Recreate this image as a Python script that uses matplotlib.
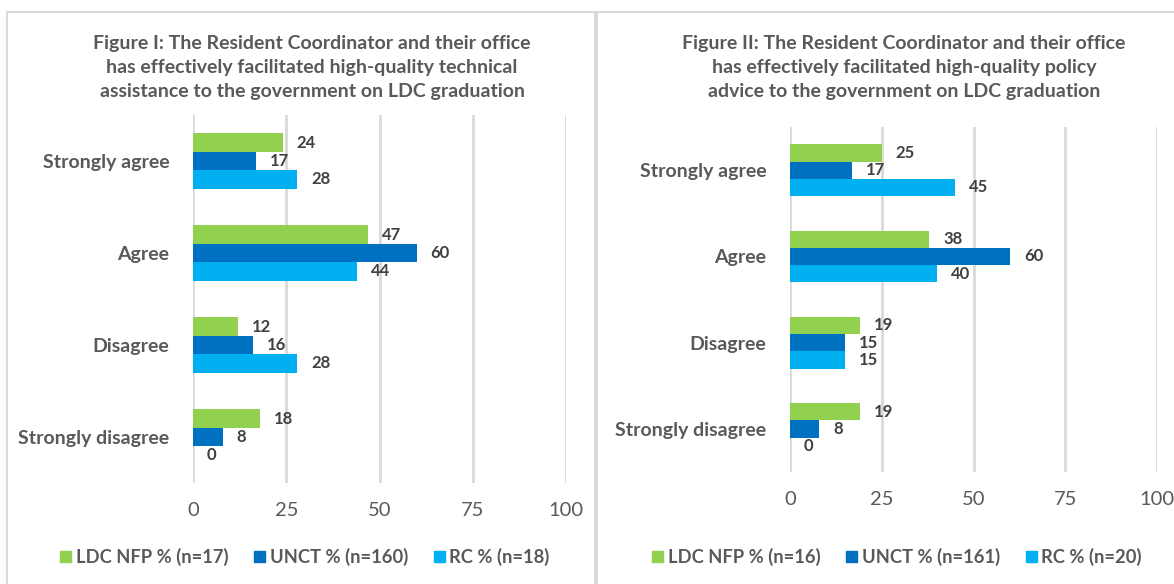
import matplotlib
matplotlib.use("Agg")
import matplotlib.pyplot as plt
from matplotlib.patches import Rectangle, Patch
import numpy as np

categories = ["Strongly agree", "Agree", "Disagree", "Strongly disagree"]

fig1_title = ("Figure I: The Resident Coordinator and their office\n"
              "has effectively facilitated high-quality technical\n"
              "assistance to the government on LDC graduation")
fig1_series = ["LDC NFP % (n=17)", "UNCT % (n=160)", "RC % (n=18)"]
fig1_ldc = [24, 47, 12, 18]
fig1_unct = [17, 60, 16, 8]
fig1_rc = [28, 44, 28, 0]

fig2_title = ("Figure II: The Resident Coordinator and their office\n"
              "has effectively facilitated high-quality policy\n"
              "advice to the government on LDC graduation")
fig2_series = ["LDC NFP % (n=16)", "UNCT % (n=161)", "RC % (n=20)"]
fig2_ldc = [25, 38, 19, 19]
fig2_unct = [17, 60, 15, 8]
fig2_rc = [45, 40, 15, 0]

xticks = [0, 25, 50, 75, 100]
colors = ["#92D050", "#0070C0", "#00B0F0"]
TXT = "#404040"
GRID = "#D9D9D9"
FONT = ["Lato", "DejaVu Sans"]

plt.rcParams["font.family"] = FONT

W, H = 1174, 584
fig = plt.figure(figsize=(W / 100, H / 100), dpi=100)


def fx(px):
    return px / W


def fy(py):
    return 1 - py / H


# panel borders
fig.patches.append(Rectangle((fx(7), fy(600)), fx(595 - 7), fy(12) - fy(600),
                             transform=fig.transFigure, fill=False,
                             edgecolor=GRID, linewidth=1.5, zorder=0))
fig.patches.append(Rectangle((fx(597), fy(600)), fx(1200 - 597), fy(12) - fy(600),
                             transform=fig.transFigure, fill=False,
                             edgecolor=GRID, linewidth=1.5, zorder=0))


def panel(rect, title, title_xy, series, ldc, unct, rc, legend_xy):
    ax = fig.add_axes(rect)
    y = np.arange(len(categories))
    h = 0.2
    vals = [ldc, unct, rc]
    for i, (v, c) in enumerate(zip(vals, colors)):
        bars = ax.barh(y + (i - 1) * h, v, height=h, color=c, label=series[i], zorder=3)
        for b, val in zip(bars, v):
            ax.annotate(f"{val}", (b.get_width(), b.get_y() + b.get_height() / 2),
                        xytext=(10, 0), textcoords="offset points",
                        ha="left", va="center", fontsize=12, fontweight="bold",
                        color=TXT)
    ax.set_xlim(0, 100)
    ax.set_ylim(len(categories) - 0.5, -0.5)
    ax.set_xticks(xticks)
    ax.set_xticklabels([str(t) for t in xticks])
    ax.set_yticks(y)
    ax.set_yticklabels(categories)
    ax.grid(axis="x", color=GRID, linewidth=2, zorder=0)
    ax.set_axisbelow(True)
    for s in ax.spines.values():
        s.set_visible(False)
    ax.tick_params(axis="both", length=0, colors="#595959")
    ax.tick_params(axis="x", pad=14, labelsize=14.5)
    ax.tick_params(axis="y", pad=17, labelsize=14)
    for t in ax.get_yticklabels():
        t.set_fontweight("bold")
        t.set_color("#595959")
    fig.text(fx(title_xy[0]), fy(title_xy[1]), title, ha="center", va="center",
             fontsize=14, fontweight="bold", color="#595959", linespacing=1.5)
    handles = [Patch(color=c) for c in colors]
    fig.legend(handles, series, loc="center", bbox_to_anchor=(fx(legend_xy[0]), fy(legend_xy[1])),
               ncol=3, frameon=False, handlelength=0.6, handleheight=0.6,
               handletextpad=0.25, columnspacing=1.4, labelcolor="#595959",
               prop={"weight": "bold", "size": 13.2})
    return ax


panel([fx(193), fy(483), fx(566 - 193), fy(115) - fy(483)], fig1_title, (312, 68),
      fig1_series, fig1_ldc, fig1_unct, fig1_rc, (305, 557))
panel([fx(790), fy(472), fx(1157 - 790), fy(127) - fy(472)], fig2_title, (904, 68),
      fig2_series, fig2_ldc, fig2_unct, fig2_rc, (897, 557))

fig.savefig("out.png", dpi=100)
